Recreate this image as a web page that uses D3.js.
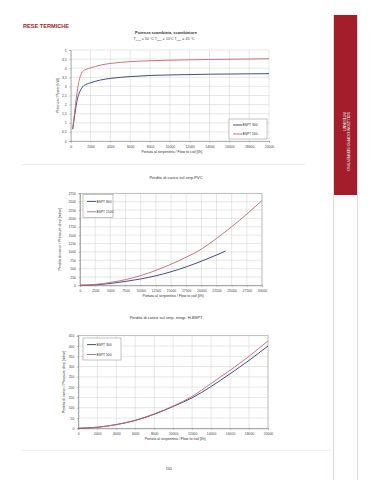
<!DOCTYPE html>
<html>
<head>
<meta charset="utf-8">
<title>Rese termiche</title>
<style>
  html, body { margin: 0; padding: 0; background: #fff; }
  svg { display: block; font-family: "Liberation Sans", Arial, sans-serif; }
  .tick text { fill: #444; }
</style>
</head>
<body>
<script src="https://cdnjs.cloudflare.com/ajax/libs/d3/7.8.5/d3.min.js"></script>
<script>

// chart 1: Potenza scambiata
var powerFlow   = [200, 400, 600, 800, 1000, 1200, 1600, 2000, 3000, 4000, 6000, 8000, 10000, 14000, 20000];
var powerSmall  = [0.65, 1.4, 2.1, 2.55, 2.8, 2.98, 3.12, 3.2, 3.35, 3.44, 3.54, 3.6, 3.63, 3.67, 3.7];
var powerLarge  = [0.65, 1.6, 2.5, 3.2, 3.6, 3.82, 3.95, 4.02, 4.17, 4.26, 4.36, 4.41, 4.44, 4.48, 4.52];
var powerNames  = ["BSPT 300", "BSPT 500"];
var powerXTicks = [0, 2000, 4000, 6000, 8000, 10000, 12000, 14000, 16000, 18000, 20000];
var powerYTicks = [0, 0.5, 1, 1.5, 2, 2.5, 3, 3.5, 4, 4.5, 5];

// chart 2: perdita di carico serp. PVC
var pvcFlowA  = [0, 2500, 5000, 7500, 10000, 12500, 15000, 17500, 20000, 22500, 24000];
var pvcDropA  = [0, 15, 55, 115, 190, 285, 405, 550, 720, 905, 1025];
var pvcFlowB  = [0, 2500, 5000, 7500, 10000, 12500, 15000, 17500, 20000, 22500, 25000, 27500, 30000];
var pvcDropB  = [0, 25, 85, 170, 290, 445, 630, 840, 1080, 1400, 1750, 2130, 2530];
var pvcNames  = ["BSPT 800", "BSPT 1500"];
var pvcXTicks = [0, 2500, 5000, 7500, 10000, 12500, 15000, 17500, 20000, 22500, 25000, 27500, 30000];
var pvcYTicks = [0, 250, 500, 750, 1000, 1250, 1500, 1750, 2000, 2250, 2500, 2750];

// chart 3: perdita di carico serp. integr. H-BSPT
var intFlow   = [0, 2000, 4000, 6000, 8000, 10000, 12000, 14000, 16000, 18000, 20000];
var intDropA  = [0, 5, 18, 38, 68, 106, 148, 203, 265, 330, 400];
var intDropB  = [0, 5, 18, 39, 70, 108, 155, 218, 282, 350, 425];
var intNames  = ["BSPT 300", "BSPT 500"];
var intXTicks = [0, 2000, 4000, 6000, 8000, 10000, 12000, 14000, 16000, 18000, 20000];
var intYTicks = [0, 50, 100, 150, 200, 250, 300, 350, 400, 450];

var blue = "#2b3d6b";
var red = "#c8636f";
var brand = "#a31d2b";

var svg = d3.select("body").append("svg")
    .attr("width", 374)
    .attr("height", 480);

// page header
svg.append("text")
    .attr("x", 23).attr("y", 27.5)
    .attr("font-size", 5.6).attr("font-weight", "bold")
    .attr("fill", brand)
    .text("RESE TERMICHE");

// side band
svg.append("line").attr("x1", 333.5).attr("x2", 333.5).attr("y1", 15).attr("y2", 480)
    .attr("stroke", "#eab8c0").attr("stroke-width", 0.6);
svg.append("line").attr("x1", 357.5).attr("x2", 357.5).attr("y1", 15).attr("y2", 480)
    .attr("stroke", "#eab8c0").attr("stroke-width", 0.6);
svg.append("rect")
    .attr("x", 334).attr("y", 15).attr("width", 23).attr("height", 180)
    .attr("fill", brand);
var side = svg.append("text")
    .attr("transform", "translate(347,112) rotate(90)")
    .attr("font-size", 3.6).attr("fill", "#fff");
side.append("tspan").attr("x", 0).attr("dy", 0).text("SOLUZIONI DOPPIO SERPENTINO");
side.append("tspan").attr("x", 0).attr("dy", 4.3).text("INTEGRATI");

// separator under first chart
svg.append("line").attr("x1", 22).attr("x2", 305).attr("y1", 164.5).attr("y2", 164.5)
    .attr("stroke", "#ddd").attr("stroke-width", 0.6);

// footer
svg.append("line").attr("x1", 22).attr("x2", 330).attr("y1", 450.5).attr("y2", 450.5)
    .attr("stroke", "#e4e4e4").attr("stroke-width", 0.6);
svg.append("text")
    .attr("x", 169).attr("y", 470)
    .attr("font-size", 3.8).attr("text-anchor", "middle").attr("fill", "#333")
    .text("101");

function comma(v) { return String(v).replace(".", ","); }

function drawChart(cfg) {
    var x = d3.scaleLinear().domain(cfg.xDomain).range(cfg.xRange);
    var y = d3.scaleLinear().domain(cfg.yDomain).range(cfg.yRange);
    var g = svg.append("g");

    // grid
    g.selectAll(".vg").data(cfg.xTicks).enter().append("line")
        .attr("x1", function (d) { return x(d); })
        .attr("x2", function (d) { return x(d); })
        .attr("y1", cfg.yRange[0]).attr("y2", cfg.yRange[1])
        .attr("stroke", "#cfcfcf").attr("stroke-width", 0.5);
    g.selectAll(".hg").data(cfg.yTicks).enter().append("line")
        .attr("y1", function (d) { return y(d); })
        .attr("y2", function (d) { return y(d); })
        .attr("x1", cfg.xRange[0]).attr("x2", cfg.xRange[1])
        .attr("stroke", "#cfcfcf").attr("stroke-width", 0.5);
    if (cfg.frame) {
        g.append("rect")
            .attr("x", cfg.xRange[0]).attr("y", cfg.yRange[1])
            .attr("width", cfg.xRange[1] - cfg.xRange[0])
            .attr("height", cfg.yRange[0] - cfg.yRange[1])
            .attr("fill", "none").attr("stroke", "#999").attr("stroke-width", 0.5);
    }

    // axes
    var xa = g.append("g")
        .attr("transform", "translate(0," + cfg.yRange[0] + ")")
        .call(d3.axisBottom(x).tickValues(cfg.xTicks).tickSize(1.5).tickPadding(3).tickFormat(cfg.xFmt || String));
    var ya = g.append("g")
        .attr("transform", "translate(" + cfg.xRange[0] + ",0)")
        .call(d3.axisLeft(y).tickValues(cfg.yTicks).tickSize(1.5).tickPadding(2.5).tickFormat(cfg.yFmt || String));
    [xa, ya].forEach(function (a) {
        a.selectAll("text").attr("font-size", 3.4).attr("font-family", "Liberation Sans, Arial, sans-serif");
        a.selectAll("line").attr("stroke", "#888").attr("stroke-width", 0.5);
        a.select(".domain").attr("stroke", "#888").attr("stroke-width", 0.6);
    });

    // titles
    g.append("text")
        .attr("x", (cfg.xRange[0] + cfg.xRange[1]) / 2 + 2)
        .attr("y", cfg.yRange[0] + 11.5)
        .attr("font-size", 3.6).attr("text-anchor", "middle").attr("fill", "#333")
        .text("Portata al serpentino / Flow to coil [l/h]");
    g.append("text")
        .attr("transform", "translate(" + cfg.yTitleX + "," + ((cfg.yRange[0] + cfg.yRange[1]) / 2) + ") rotate(-90)")
        .attr("font-size", 3.6).attr("text-anchor", "middle").attr("fill", "#333")
        .text(cfg.yTitle);

    // lines
    var line = d3.line()
        .x(function (d) { return x(d[0]); })
        .y(function (d) { return y(d[1]); })
        .curve(d3.curveMonotoneX);
    cfg.series.forEach(function (s) {
        g.append("path")
            .datum(d3.zip(s.x, s.y))
            .attr("d", line)
            .attr("fill", "none")
            .attr("stroke", s.color)
            .attr("stroke-width", 0.9);
    });

    // legend
    var L = cfg.legend;
    g.append("rect")
        .attr("x", L.x).attr("y", L.y).attr("width", L.w).attr("height", L.h)
        .attr("fill", "#fff").attr("stroke", "#888").attr("stroke-width", 0.5);
    cfg.series.forEach(function (s, i) {
        var ly = L.y + L.h * (i === 0 ? 0.3 : 0.75);
        g.append("line")
            .attr("x1", L.x + 4).attr("x2", L.x + 13)
            .attr("y1", ly).attr("y2", ly)
            .attr("stroke", s.color).attr("stroke-width", 0.9);
        g.append("text")
            .attr("x", L.x + 13.5).attr("y", ly + 1.2)
            .attr("font-size", 3.3).attr("fill", "#333")
            .text(s.name);
    });
}

// chart 1 heading
var t1 = svg.append("text").attr("x", 166).attr("y", 33.5)
    .attr("font-size", 4).attr("text-anchor", "middle").attr("fill", "#333").attr("font-weight", "bold")
    .text("Potenza scambiata, scambiatore");
var st = svg.append("text").attr("x", 164).attr("y", 39.5)
    .attr("font-size", 3.6).attr("text-anchor", "middle").attr("fill", "#444");
st.append("tspan").text("T");
st.append("tspan").attr("font-size", 2.4).attr("dy", 1).text("in,sc");
st.append("tspan").attr("dy", -1).text(" = 50 °C  T");
st.append("tspan").attr("font-size", 2.4).attr("dy", 1).text("amb");
st.append("tspan").attr("dy", -1).text(" = 10°C  T");
st.append("tspan").attr("font-size", 2.4).attr("dy", 1).text("max");
st.append("tspan").attr("dy", -1).text(" = 45 °C");

drawChart({
    xDomain: [0, 20000], xRange: [70.7, 269],
    yDomain: [0, 5], yRange: [141, 50],
    xTicks: powerXTicks, yTicks: powerYTicks,
    yFmt: comma,
    yTitle: "Potenza / Power [kW]", yTitleX: 59,
    frame: false,
    series: [
        { name: powerNames[0], x: powerFlow, y: powerSmall, color: blue },
        { name: powerNames[1], x: powerFlow, y: powerLarge, color: red }
    ],
    legend: { x: 229, y: 119, w: 38, h: 20 }
});

// chart 2 heading
svg.append("text").attr("x", 176).attr("y", 178.5)
    .attr("font-size", 4).attr("text-anchor", "middle").attr("fill", "#333")
    .text("Perdita di carico sul serp.PVC");

drawChart({
    xDomain: [0, 30000], xRange: [80, 262],
    yDomain: [0, 2750], yRange: [285.3, 193.3],
    xTicks: pvcXTicks, yTicks: pvcYTicks,
    yTitle: "Perdita di carico / Pressure drop [mbar]", yTitleX: 61,
    frame: true,
    series: [
        { name: pvcNames[0], x: pvcFlowA, y: pvcDropA, color: blue },
        { name: pvcNames[1], x: pvcFlowB, y: pvcDropB, color: red }
    ],
    legend: { x: 83, y: 194.5, w: 30, h: 23 }
});

// chart 3 heading
svg.append("text").attr("x", 166).attr("y", 319)
    .attr("font-size", 4).attr("text-anchor", "middle").attr("fill", "#333")
    .text("Perdita di carico sul serp. integr. H-BSPT");

drawChart({
    xDomain: [0, 20000], xRange: [78.3, 268],
    yDomain: [0, 450], yRange: [428.3, 335.7],
    xTicks: intXTicks, yTicks: intYTicks,
    yTitle: "Perdita di carico / Pressure drop [mbar]", yTitleX: 65,
    frame: true,
    series: [
        { name: intNames[0], x: intFlow, y: intDropA, color: blue },
        { name: intNames[1], x: intFlow, y: intDropB, color: red }
    ],
    legend: { x: 83, y: 338, w: 38, h: 22 }
});

</script>
</body>
</html>
